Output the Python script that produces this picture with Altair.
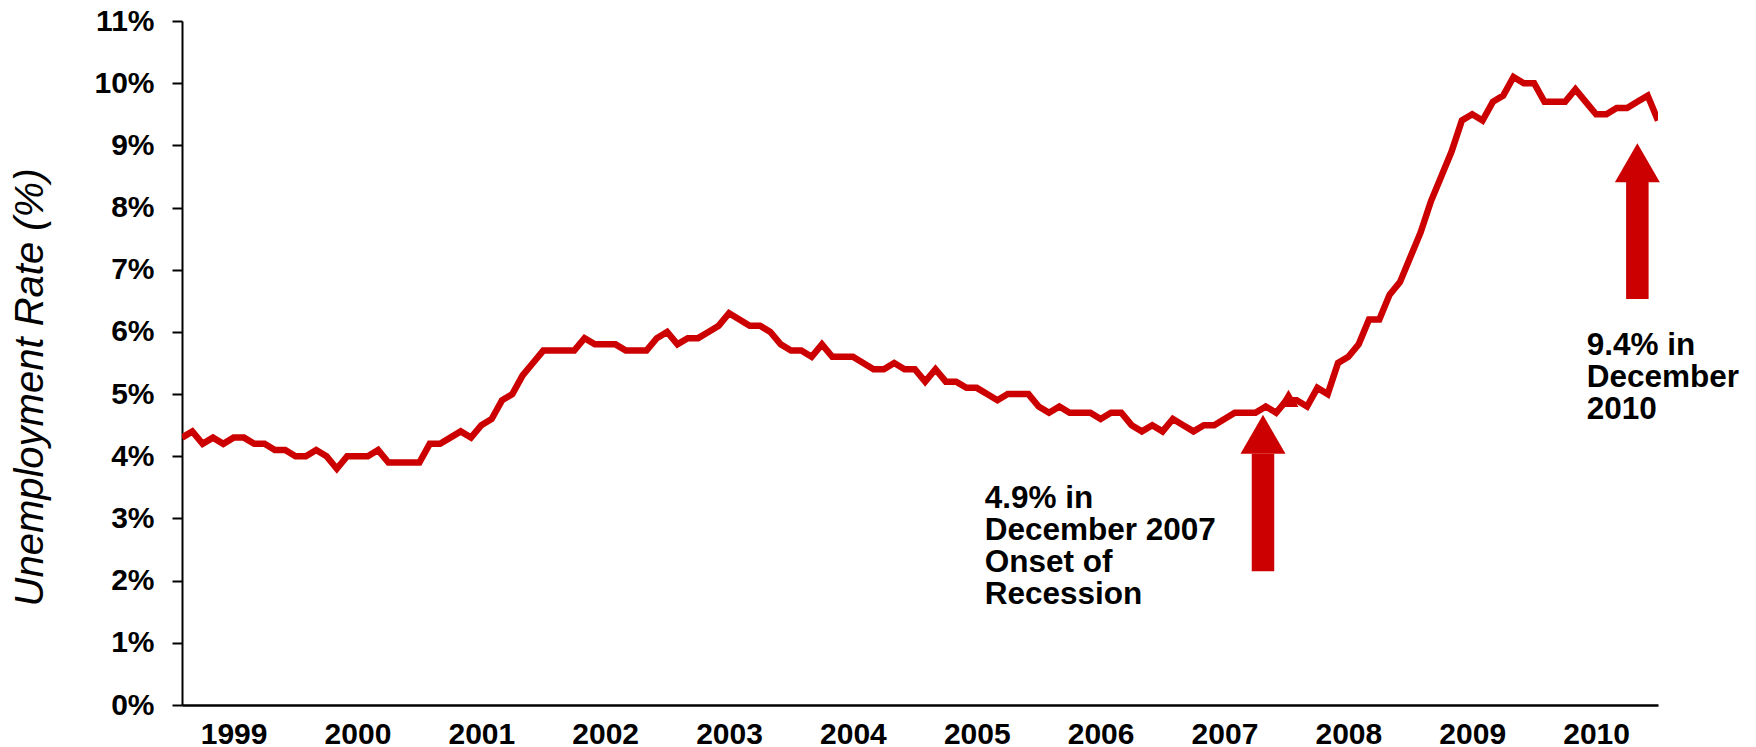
import altair as alt
import pandas as pd

# ---- data (monthly unemployment rate, %) ----
years = [1999, 2000, 2001, 2002, 2003, 2004, 2005, 2006, 2007, 2008, 2009, 2010]
rate_1999 = [4.3, 4.4, 4.2, 4.3, 4.2, 4.3, 4.3, 4.2, 4.2, 4.1, 4.1, 4.0]
rate_2000 = [4.0, 4.1, 4.0, 3.8, 4.0, 4.0, 4.0, 4.1, 3.9, 3.9, 3.9, 3.9]
rate_2001 = [4.2, 4.2, 4.3, 4.4, 4.3, 4.5, 4.6, 4.9, 5.0, 5.3, 5.5, 5.7]
rate_2002 = [5.7, 5.7, 5.7, 5.9, 5.8, 5.8, 5.8, 5.7, 5.7, 5.7, 5.9, 6.0]
rate_2003 = [5.8, 5.9, 5.9, 6.0, 6.1, 6.3, 6.2, 6.1, 6.1, 6.0, 5.8, 5.7]
rate_2004 = [5.7, 5.6, 5.8, 5.6, 5.6, 5.6, 5.5, 5.4, 5.4, 5.5, 5.4, 5.4]
rate_2005 = [5.2, 5.4, 5.2, 5.2, 5.1, 5.1, 5.0, 4.9, 5.0, 5.0, 5.0, 4.8]
rate_2006 = [4.7, 4.8, 4.7, 4.7, 4.7, 4.6, 4.7, 4.7, 4.5, 4.4, 4.5, 4.4]
rate_2007 = [4.6, 4.5, 4.4, 4.5, 4.5, 4.6, 4.7, 4.7, 4.7, 4.8, 4.7, 4.9]
rate_2008 = [4.9, 4.8, 5.1, 5.0, 5.5, 5.6, 5.8, 6.2, 6.2, 6.6, 6.8, 7.2]
rate_2009 = [7.6, 8.1, 8.5, 8.9, 9.4, 9.5, 9.4, 9.7, 9.8, 10.1, 10.0, 10.0]
rate_2010 = [9.7, 9.7, 9.7, 9.9, 9.7, 9.5, 9.5, 9.6, 9.6, 9.7, 9.8, 9.4]

y_ticks = [0, 1, 2, 3, 4, 5, 6, 7, 8, 9, 10, 11]

# annotations (x in month index from Jan 1999, y in %)
arrow_idx = [104.73, 141.0]
arrow_head_center = [4.354, 8.719]
arrow_head_base = [4.04, 8.42]
arrow_tail = [2.15, 6.53]

note_idx = [77.77, 136.1]
note_top = [3.563, 6.034]
note_text = ["4.9% in\nDecember 2007\nOnset of\nRecession", "9.4% in\nDecember\n2010"]

marker_idx = [107.2]
marker_val = [4.93]

# ---- build tables ----
all_rates = (rate_1999 + rate_2000 + rate_2001 + rate_2002 + rate_2003 + rate_2004 +
             rate_2005 + rate_2006 + rate_2007 + rate_2008 + rate_2009 + rate_2010)
months = [f"{y}-{m:02d}" for y in years for m in range(1, 13)]
df = pd.DataFrame({"month": months, "idx": list(range(len(months))), "rate": all_rates})

arrows = pd.DataFrame({"idx": arrow_idx, "head": arrow_head_center,
                       "base": arrow_head_base, "tail": arrow_tail})
notes = pd.DataFrame({"idx": note_idx, "top": note_top, "text": note_text})
marker = pd.DataFrame({"idx": marker_idx, "val": marker_val})

RED = "#CC0000"
FONT = "Liberation Sans"

x_scale = alt.Scale(domain=[0, len(months) - 1], nice=False, zero=False)
y_scale = alt.Scale(domain=[0, 11], nice=False, zero=True)

year_tick_idx = [12 * k + 5 for k in range(len(years))]

x_axis = alt.Axis(
    values=year_tick_idx,
    labelExpr="'' + (1999 + floor(datum.value / 12))",
    ticks=False, tickSize=0, grid=False, title=None,
    labelFont=FONT, labelFontSize=30, labelFontWeight="bold", labelColor="black",
    labelPadding=14, labelFlush=False, labelOverlap=False, labelBaseline="top",
    domainColor="black", domainWidth=2.5,
)
y_axis = alt.Axis(
    values=y_ticks,
    labelExpr="datum.value + '%'",
    tickSize=10, tickWidth=2, tickColor="black", grid=False,
    labelFont=FONT, labelFontSize=30, labelFontWeight="bold", labelColor="black",
    labelPadding=18, labelOverlap=False,
    domainColor="black", domainWidth=2,
    title="Unemployment Rate (%)", titleFont=FONT, titleFontSize=40,
    titleFontStyle="italic", titleFontWeight="normal", titleColor="black",
    titleAngle=270, titleBaseline="alphabetic", titleAlign="center",
    titleX=-140, titleY=366,
)

line = alt.Chart(df).mark_line(color=RED, strokeWidth=6.5, clip=True, strokeJoin="miter").encode(
    x=alt.X("idx:Q", scale=x_scale, axis=x_axis),
    y=alt.Y("rate:Q", scale=y_scale, axis=y_axis),
)

tri = alt.Chart(marker).mark_point(shape="triangle-up", filled=True, color=RED,
                                   size=400, opacity=1, strokeWidth=0).encode(
    x=alt.X("idx:Q", scale=x_scale),
    y=alt.Y("val:Q", scale=y_scale),
)

shafts = alt.Chart(arrows).mark_rule(color=RED, strokeWidth=22.5, strokeCap="butt").encode(
    x=alt.X("idx:Q", scale=x_scale),
    y=alt.Y("base:Q", scale=y_scale),
    y2="tail:Q",
)

heads = alt.Chart(arrows).mark_point(shape="triangle-up", filled=True, color=RED,
                                     size=2025, opacity=1, strokeWidth=0).encode(
    x=alt.X("idx:Q", scale=x_scale),
    y=alt.Y("head:Q", scale=y_scale),
)

texts = alt.Chart(notes).mark_text(align="left", baseline="top", font=FONT, fontSize=31.5,
                                   fontWeight="bold", color="black", lineBreak="\n",
                                   lineHeight=32).encode(
    x=alt.X("idx:Q", scale=x_scale),
    y=alt.Y("top:Q", scale=y_scale),
    text="text:N",
)

chart = alt.layer(line, tri, shafts, heads, texts).properties(
    width=1476, height=684,
    padding={"left": 174, "top": 13, "right": 82, "bottom": 42},
    autosize=alt.AutoSizeParams(type="none"),
    background="white",
).configure_view(stroke=None)

chart.save("out.html", embed_options={"renderer": "svg", "actions": False})
